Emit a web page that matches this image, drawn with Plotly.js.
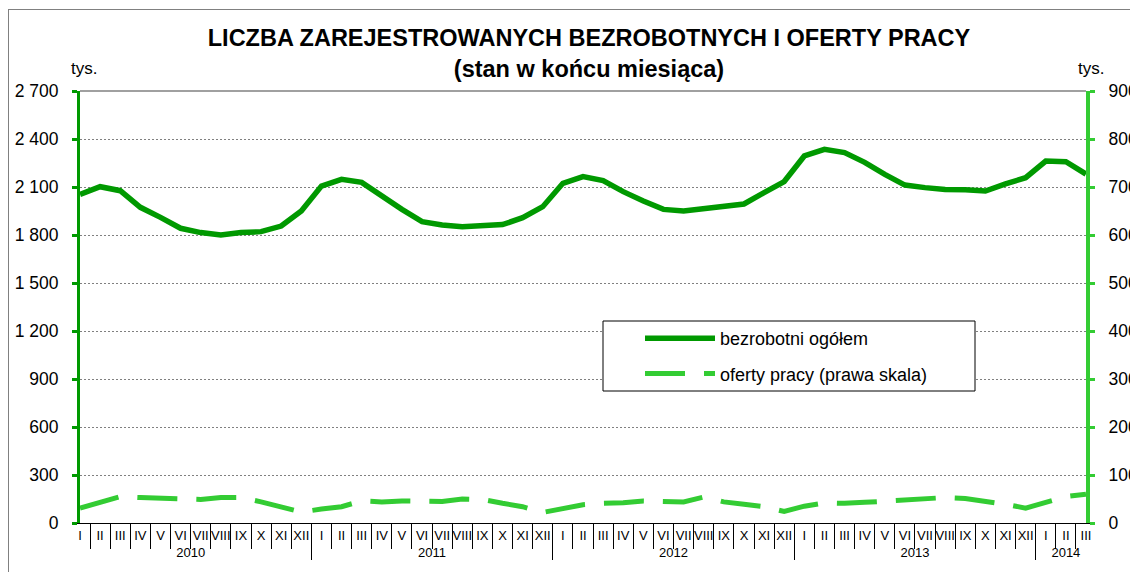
<!DOCTYPE html>
<html>
<head>
<meta charset="utf-8">
<script src="https://cdn.plot.ly/plotly-3.0.1.min.js"></script>
<style>
  html, body { margin: 0; padding: 0; background: #fff; }
  #wrap { position: relative; width: 1130px; height: 572px; overflow: hidden; }
  #chart { width: 1130px; height: 572px; }
  #frame { position: absolute; left: 8px; top: 9px; width: 1140px; height: 600px;
           border: 1px solid #808080; pointer-events: none; box-sizing: border-box; }
</style>
</head>
<body>
<div id="wrap">
  <div id="chart"></div>
  <div id="frame"></div>
</div>
<script>
// ---- data (thousands) ----
const years = ['2010', '2011', '2012', '2013', '2014'];
const monthsPerYear = [12, 12, 12, 12, 3];
const monthLabels = ['I', 'II', 'III', 'IV', 'V', 'VI', 'VII', 'VIII', 'IX', 'X', 'XI', 'XII'];

const unemployed = [
  2054, 2102, 2077, 1973, 1910, 1842, 1815, 1800, 1815, 1821, 1856, 1950,
  2106, 2148, 2129, 2040, 1960, 1883, 1862, 1852, 1858, 1865, 1908, 1977,
  2123, 2165, 2140, 2071, 2013, 1960, 1950, 1962, 1977, 1994, 2065, 2134,
  2294, 2335, 2315, 2254, 2179, 2112, 2096, 2085, 2083, 2075, 2119, 2158,
  2262, 2258, 2181
];
const jobOffers = [
  31, 43, 55, 53, 51, 50, 49, 53, 53, 44, 34, 23,
  29, 34, 46, 44, 46, 46, 45, 50, 49, 41, 34, 22,
  31, 38, 41, 42, 46, 44, 44, 54, 44, 39, 34, 24,
  35, 42, 41, 43, 46, 48, 51, 53, 51, 46, 39, 31,
  44, 55, 60
];

const seriesNames = ['bezrobotni ogółem', 'oferty pracy (prawa skala)'];
const titleLines = ['LICZBA ZAREJESTROWANYCH BEZROBOTNYCH I OFERTY PRACY', '(stan w końcu miesiąca)'];
const unitLabel = 'tys.';

// build multicategory x
const xYear = [], xMonth = [];
years.forEach((y, i) => {
  for (let m = 0; m < monthsPerYear[i]; m++) { xYear.push(y); xMonth.push(monthLabels[m]); }
});

const FONT = 'Liberation Sans, Arial, sans-serif';
const DARK = '#009900';
const LIGHT = '#33CC33';

const traces = [
  {
    x: [xYear, xMonth], y: unemployed, type: 'scatter', mode: 'lines',
    name: seriesNames[0], legendgroup: 'a',
    line: { color: DARK, width: 5.5 }
  },
  {
    x: [xYear, xMonth], y: jobOffers, type: 'scatter', mode: 'lines',
    name: seriesNames[1], legendgroup: 'b', yaxis: 'y2',
    line: { color: LIGHT, width: 5, dash: '40px,19px' }
  }
];

// plot area in pixels (for legend/annotation placement)
const L = 80, R = 1086, T = 91, B = 523;
const px = v => (v - L) / (R - L);
const py = v => (B - v) / (B - T);

const layout = {
  width: 1130, height: 572,
  margin: { l: L, r: 1130 - R, t: T, b: 572 - B, pad: 0 },
  paper_bgcolor: 'rgba(0,0,0,0)', plot_bgcolor: '#fff',
  font: { family: FONT, color: '#000', size: 17 },
  separators: ', ',
  title: {
    text: '<b>' + titleLines[0] + '</b><br><b>' + titleLines[1] + '</b>',
    font: { family: FONT, size: 23.5, color: '#000' },
    xref: 'paper', x: px(589), xanchor: 'center',
    yref: 'container', y: 1 - 46 / 572, yanchor: 'top'
  },
  showlegend: true,
  legend: {
    x: px(640), xanchor: 'left', y: py(320), yanchor: 'top',
    bgcolor: 'rgba(0,0,0,0)', borderwidth: 0,
    font: { family: FONT, size: 18, color: '#000' },
    itemwidth: 70, tracegroupgap: 9, traceorder: 'grouped'
  },
  xaxis: {
    type: 'multicategory', tickangle: 0,
    showline: true, linecolor: '#000', linewidth: 1,
    ticks: 'outside', tickson: 'boundaries', ticklen: 25, tickcolor: '#000', tickwidth: 1,
    showdividers: true, dividercolor: '#000', dividerwidth: 1,
    tickfont: { family: FONT, size: 13, color: '#000' },
    showgrid: false, zeroline: false
  },
  yaxis: {
    range: [0, 2700], tick0: 0, dtick: 300, tickformat: ',d',
    showline: true, linecolor: DARK, linewidth: 3,
    ticks: 'outside', ticklen: 5, tickwidth: 3, tickcolor: DARK,
    ticklabelstandoff: 10,
    showgrid: true, gridcolor: '#808080', gridwidth: 1, griddash: '2px,2px',
    zeroline: false,
    tickfont: { family: FONT, size: 17.5, color: '#000' }
  },
  yaxis2: {
    overlaying: 'y', side: 'right',
    range: [0, 900], tick0: 0, dtick: 100,
    showline: true, linecolor: LIGHT, linewidth: 4,
    ticks: 'outside', ticklen: 5, tickwidth: 3, tickcolor: LIGHT,
    ticklabelstandoff: 10,
    showgrid: false, zeroline: false,
    tickfont: { family: FONT, size: 17.5, color: '#000' }
  },
  shapes: [
    { type: 'line', xref: 'paper', yref: 'paper', x0: 0, x1: 1, y0: 1, y1: 1,
      line: { color: '#808080', width: 1.5 }, layer: 'above' },
    { type: 'rect', xref: 'paper', yref: 'paper',
      x0: px(603), x1: px(975), y0: py(391), y1: py(321),
      fillcolor: '#fff', line: { color: '#000', width: 1 }, layer: 'above' }
  ],
  annotations: [
    { text: unitLabel, xref: 'paper', yref: 'paper', x: px(84), y: py(68),
      xanchor: 'center', yanchor: 'middle', showarrow: false,
      font: { family: FONT, size: 17, color: '#000' } },
    { text: unitLabel, xref: 'paper', yref: 'paper', x: px(1091), y: py(68),
      xanchor: 'center', yanchor: 'middle', showarrow: false,
      font: { family: FONT, size: 17, color: '#000' } }
  ]
};

Plotly.newPlot('chart', traces, layout, { displayModeBar: false, staticPlot: true });
</script>
</body>
</html>
